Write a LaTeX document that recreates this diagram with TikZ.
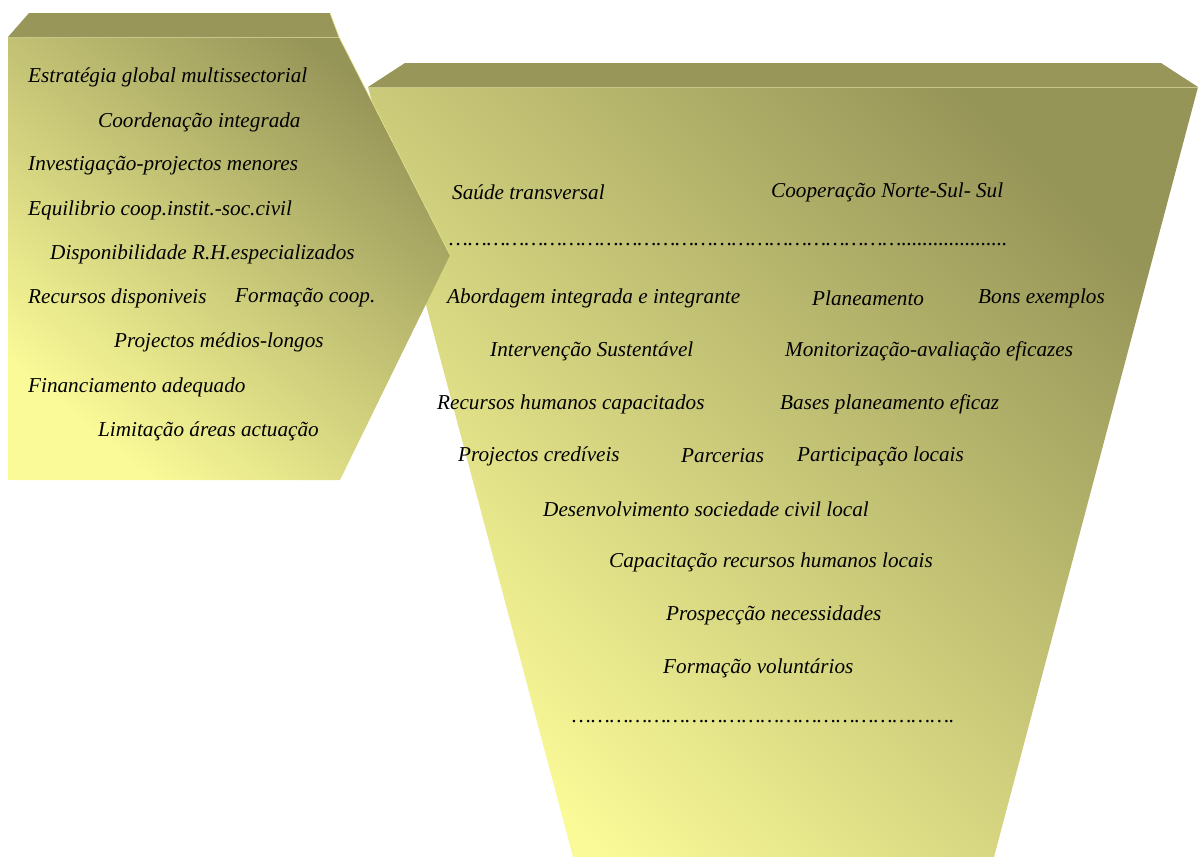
\documentclass[tikz,border=0pt]{standalone}
\usepackage{fontspec}
\setmainfont{Liberation Serif}
\usepackage{xcolor}
\usetikzlibrary{calc, positioning}

\definecolor{paleyel}{RGB}{250,250,152}
\definecolor{darkolive}{RGB}{150,149,88}
\definecolor{bandolive}{RGB}{152,150,89}
\definecolor{bandline}{RGB}{200,198,140}

\tikzset{
  txt/.style={anchor=west, inner sep=0pt, font=\itshape\fontsize{21.2}{23}\selectfont},
  body/.style={shading=axis, bottom color=paleyel, top color=darkolive, shading angle=-45},
  band/.style={fill=bandolive}
}

\begin{document}
\begin{tikzpicture}[x=1pt, y=-1pt]
    \useasboundingbox (0,0) rectangle (1200,857);

    % 1. Khoi hinh thang lon ben phai
    \shade[body] (368,87) -- (1198,87) -- (994,857) -- (573,857) -- cycle;
    \fill[band] (405,63) -- (1161,63) -- (1198,87) -- (368,87) -- cycle;
    \draw[bandline, line width=0.8pt] (368,87) -- (1198,87);

    % 2. Khoi mui ten ben trai (ve de len)
    \shade[body, shading angle=-40] (8,37) -- (339,37) -- (450,255) -- (340,480) -- (8,480) -- cycle;
    \fill[band] (29,13) -- (330,13) -- (339,37) -- (8,37) -- cycle;
    \draw[bandline, line width=0.8pt] (8,37) -- (339,37);
    \draw[paleyel!80!darkolive, line width=0.6pt] (330,13) -- (339,37) -- (450,255);

    % 3. Chu ben trai
    \node[txt] (estrat) at (28,77) {Estratégia global multissectorial};
    \node[txt] (coord) at (98,122) {Coordenação integrada};
    \node[txt] (invest) at (28,166) {Investigação-projectos menores};
    \node[txt] (equil) at (28,210) {Equilibrio coop.instit.-soc.civil};
    \node[txt] (dispon) at (50,254) {Disponibilidade R.H.especializados};
    \node[txt] (recdisp) at (28,298) {Recursos disponiveis};
    \node[txt] (formc) at (235,298) {Formação coop.};
    \node[txt] (projml) at (114,342) {Projectos médios-longos};
    \node[txt] (financ) at (28,387) {Financiamento adequado};
    \node[txt] (limit) at (98,431) {Limitação áreas actuação};

    % 4. Chu ben phai
    \node[txt] (saude) at (452,192) {Saúde transversal};
    \node[txt] (coopns) at (771,192) {Cooperação Norte-Sul- Sul};
    \node[txt] (dots1) at (449,245) {………………………………………………………………....................};
    \node[txt] (aborda) at (447,298) {Abordagem integrada e integrante};
    \node[txt] (planea) at (812,298) {Planeamento};
    \node[txt] (bons) at (978,298) {Bons exemplos};
    \node[txt] (interv) at (490,351) {Intervenção Sustentável};
    \node[txt] (monit) at (785,351) {Monitorização-avaliação eficazes};
    \node[txt] (rechum) at (437,404) {Recursos humanos capacitados};
    \node[txt] (bases) at (780,404) {Bases planeamento eficaz};
    \node[txt] (projcr) at (458,456) {Projectos credíveis};
    \node[txt] (parc) at (681,456) {Parcerias};
    \node[txt] (partic) at (797,456) {Participação locais};
    \node[txt] (desenv) at (543,509) {Desenvolvimento sociedade civil local};
    \node[txt] (capac) at (609,562) {Capacitação recursos humanos locais};
    \node[txt] (prosp) at (666,615) {Prospecção necessidades};
    \node[txt] (formv) at (663,668) {Formação voluntários};
    \node[txt] (dots2) at (572,722) {…………………………………………………….};

\end{tikzpicture}
\end{document}
